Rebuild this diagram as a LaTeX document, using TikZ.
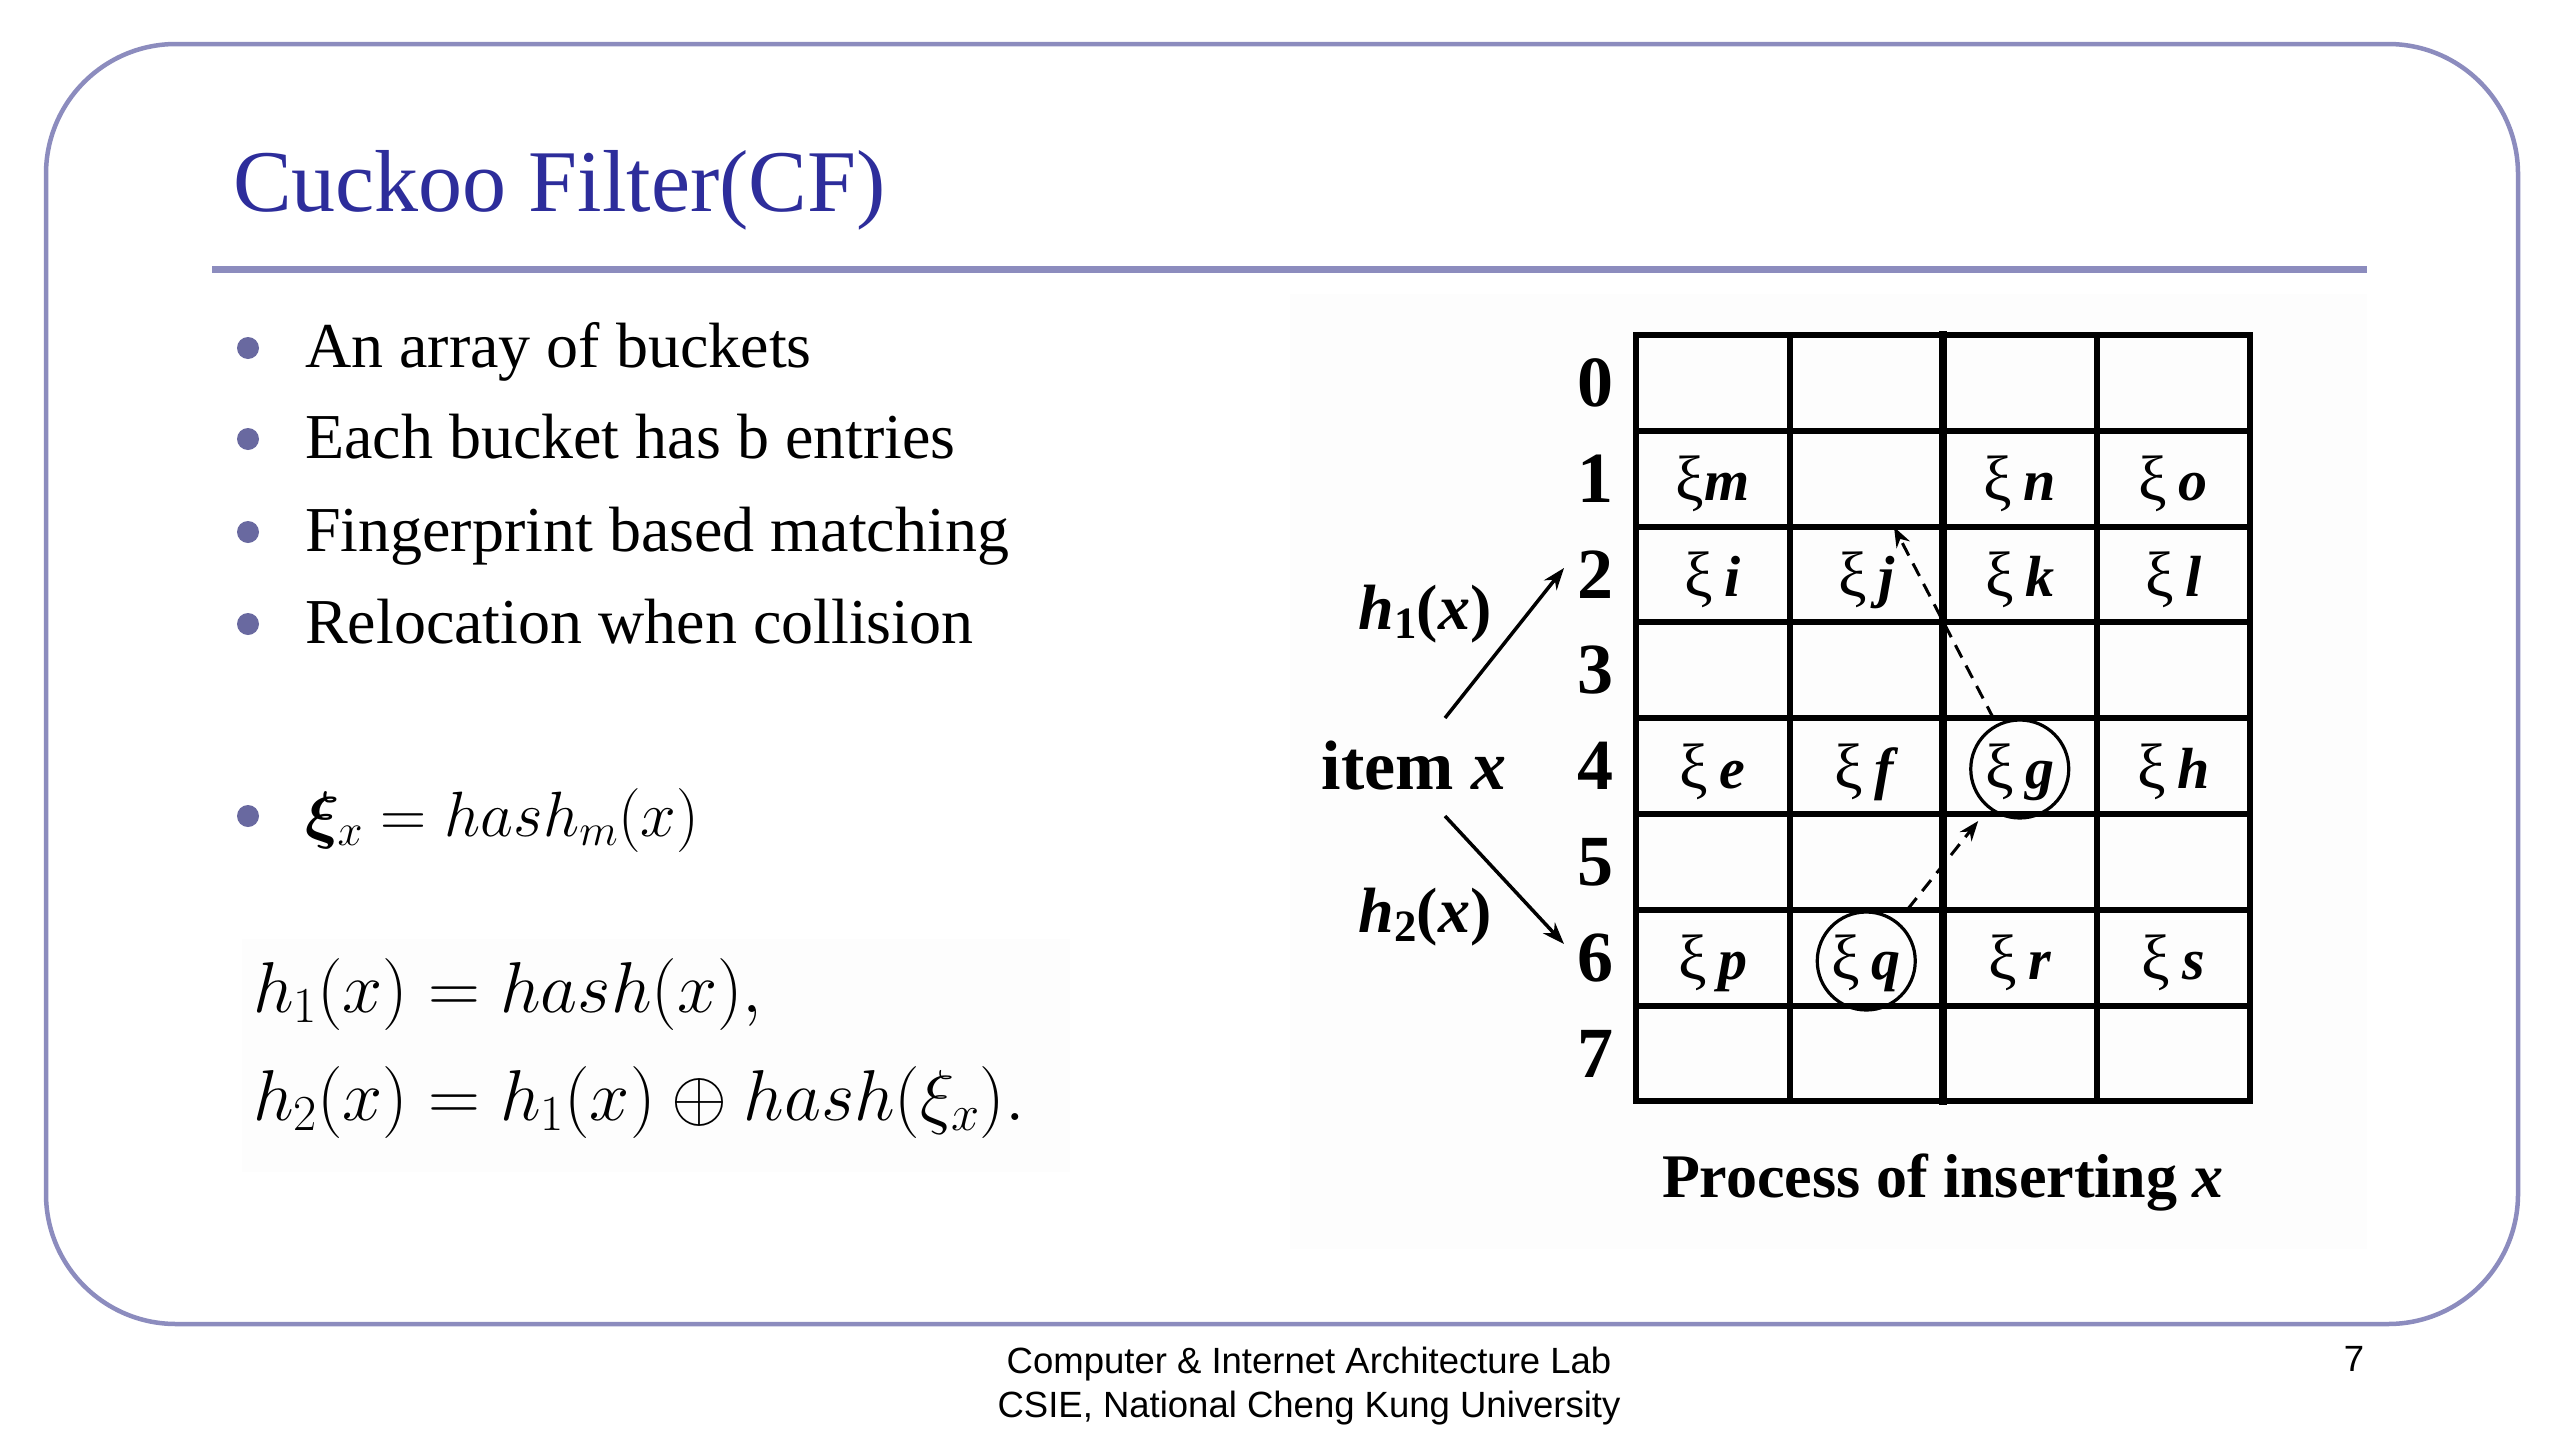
\RequirePackage{fix-cm}
\documentclass[tikz,border=0pt]{standalone}
\usepackage{fontspec}
\usepackage{amsmath}
\usepackage{bm}
\setmainfont{Liberation Serif}
\newfontfamily\footfont{Liberation Sans}
\usetikzlibrary{arrows.meta}
\definecolor{titleblue}{RGB}{45,45,155}
\definecolor{framec}{RGB}{140,140,190}
\definecolor{dotc}{RGB}{105,105,160}
\newcommand{\setfs}[1]{\fontsize{#1}{#1}\selectfont}
\newcommand{\fp}[1]{{\setfs{64}ξ}\hspace{.2em}\textbf{\textit{#1}}}
\begin{document}
\begin{tikzpicture}[x=1pt,y=-1pt,
  gridline/.style={line width=6pt, line cap=rect},
  rowlbl/.style={font=\setfs{72}\bfseries, inner sep=0pt},
  cellt/.style={font=\setfs{58}, anchor=base, inner sep=0pt},
  ring/.style={draw, circle, minimum size=98pt, line width=3.2pt, inner sep=0pt},
  dasharrow/.style={dash pattern=on 14pt off 9pt, line width=3pt, -{Stealth[length=20pt,width=15pt]}},
  solidarrow/.style={line width=3.5pt, -{Stealth[length=22pt,width=16pt]}},
  bul/.style={circle, fill=dotc, minimum size=22pt, inner sep=0pt},
  btext/.style={anchor=base west, inner sep=0pt, font=\setfs{64}},
  foot/.style={anchor=base, inner sep=0pt, font=\footfont\setfs{36.5}}]
\useasboundingbox (0,0) rectangle (2560,1440);
\fill[white] (0,0) rectangle (2560,1440);
% faint backdrops
\fill[black!0.8] (242,939) rectangle (1070,1172);
\fill[black!0.6] (1290,294) rectangle (2367,1249);
% frame and title rule
\draw[framec, line width=4.5pt, rounded corners=130pt] (46,44) rectangle (2518,1324);
\draw[framec, line width=7pt] (212,269) -- (2367,269);
\node[anchor=base west, inner sep=0pt, text=titleblue, font=\setfs{88}] (title) at (233,211) {Cuckoo Filter(CF)};
% bullets
\node[bul] (d1) at (248,348) {};
\node[bul] (d2) at (248,439) {};
\node[bul] (d3) at (248,532) {};
\node[bul] (d4) at (248,624) {};
\node[bul] (d5) at (248,816) {};
\node[btext] (b1) at (305,367) {An array of buckets};
\node[btext] (b2) at (305,458) {Each bucket has b entries};
\node[btext] (b3) at (305,551) {Fingerprint based matching};
\node[btext] (b4) at (305,643) {Relocation when collision};
\node[btext] (b5) at (305,836) {$\bm{\xi}_x = hash_m(x)$};
% equations
\node[anchor=base west, inner sep=0pt, font=\setfs{72}] (e1) at (253,1012) {$h_1(x) = hash(x),$};
\node[anchor=base west, inner sep=0pt, font=\setfs{72}] (e2) at (253,1120) {$h_2(x) = h_1(x) \oplus hash(\xi_x).$};
% grid
\foreach \xx in {1636,1789.5,2096.5,2250}
  \draw[gridline] (\xx,335) -- (\xx,1101.4);
\draw[gridline, line width=7.5pt] (1943,335) -- (1943,1101.4);
\foreach \j in {0,...,8}
  \draw[gridline] (1636,{335+95.8*\j}) -- (2250,{335+95.8*\j});
% row labels
\foreach \r in {0,...,7}
  \node[rowlbl] (r\r) at (1595,{382.9+95.8*\r}) {\r};
% cell contents (baseline = row centre + 22)
\node[cellt] (m) at (1712.75,500.7) {{\setfs{64}ξ}\textbf{\textit{m}}};
\node[cellt] (n) at (2019.75,500.7) {\fp{n}};
\node[cellt] (o) at (2173.25,500.7) {\fp{o}};
\node[cellt] (i) at (1712.75,596.5) {\fp{i}};
\node[cellt] (j) at (1866.25,596.5) {\fp{j}};
\node[cellt] (k) at (2019.75,596.5) {\fp{k}};
\node[cellt] (l) at (2173.25,596.5) {\fp{l}};
\node[cellt] (e) at (1712.75,788.1) {\fp{e}};
\node[cellt] (f) at (1866.25,788.1) {\fp{f}};
\node[cellt] (g) at (2019.75,788.1) {\fp{g}};
\node[cellt] (h) at (2173.25,788.1) {\fp{h}};
\node[cellt] (p) at (1712.75,979.7) {\fp{p}};
\node[cellt] (q) at (1866.25,979.7) {\fp{q}};
\node[cellt] (r) at (2019.75,979.7) {\fp{r}};
\node[cellt] (s) at (2173.25,979.7) {\fp{s}};
% circles
\node[ring] (cg) at (2019.75,769) {};
\node[ring] (cq) at (1866.25,961) {};
% relocation arrows
\coordinate (jtip) at (1894,527);
\draw[dasharrow, shorten <=16pt, shorten >=16pt] (cq) -- (cg);
\draw[dasharrow, shorten <=6pt] (cg) -- (jtip);
% item x and hash arrows
\node[anchor=base, inner sep=0pt, font=\setfs{70}] (item) at (1414,789) {\textbf{item \textit{x}}};
\node[anchor=base, inner sep=0pt, font=\setfs{64}] (h1) at (1425,629) {\textbf{\textit{h}}\textsubscript{\textbf{1}}\textbf{(\textit{x})}};
\node[anchor=base, inner sep=0pt, font=\setfs{64}] (h2) at (1425,932) {\textbf{\textit{h}}\textsubscript{\textbf{2}}\textbf{(\textit{x})}};
\coordinate (a1s) at (1445,718);
\coordinate (a1e) at (1564,568);
\coordinate (a2s) at (1445,816);
\coordinate (a2e) at (1564,944);
\draw[solidarrow] (a1s) -- (a1e);
\draw[solidarrow] (a2s) -- (a2e);
\node[anchor=base, inner sep=0pt, font=\setfs{62}] (cap) at (1943,1197) {\textbf{Process of inserting \textit{x}}};
% footer
\node[foot] (f1) at (1309,1373) {Computer \& Internet Architecture Lab};
\node[foot] (f2) at (1309,1417) {CSIE, National Cheng Kung University};
\node[foot] (pg) at (2354,1371) {7};
\end{tikzpicture}
\end{document}
